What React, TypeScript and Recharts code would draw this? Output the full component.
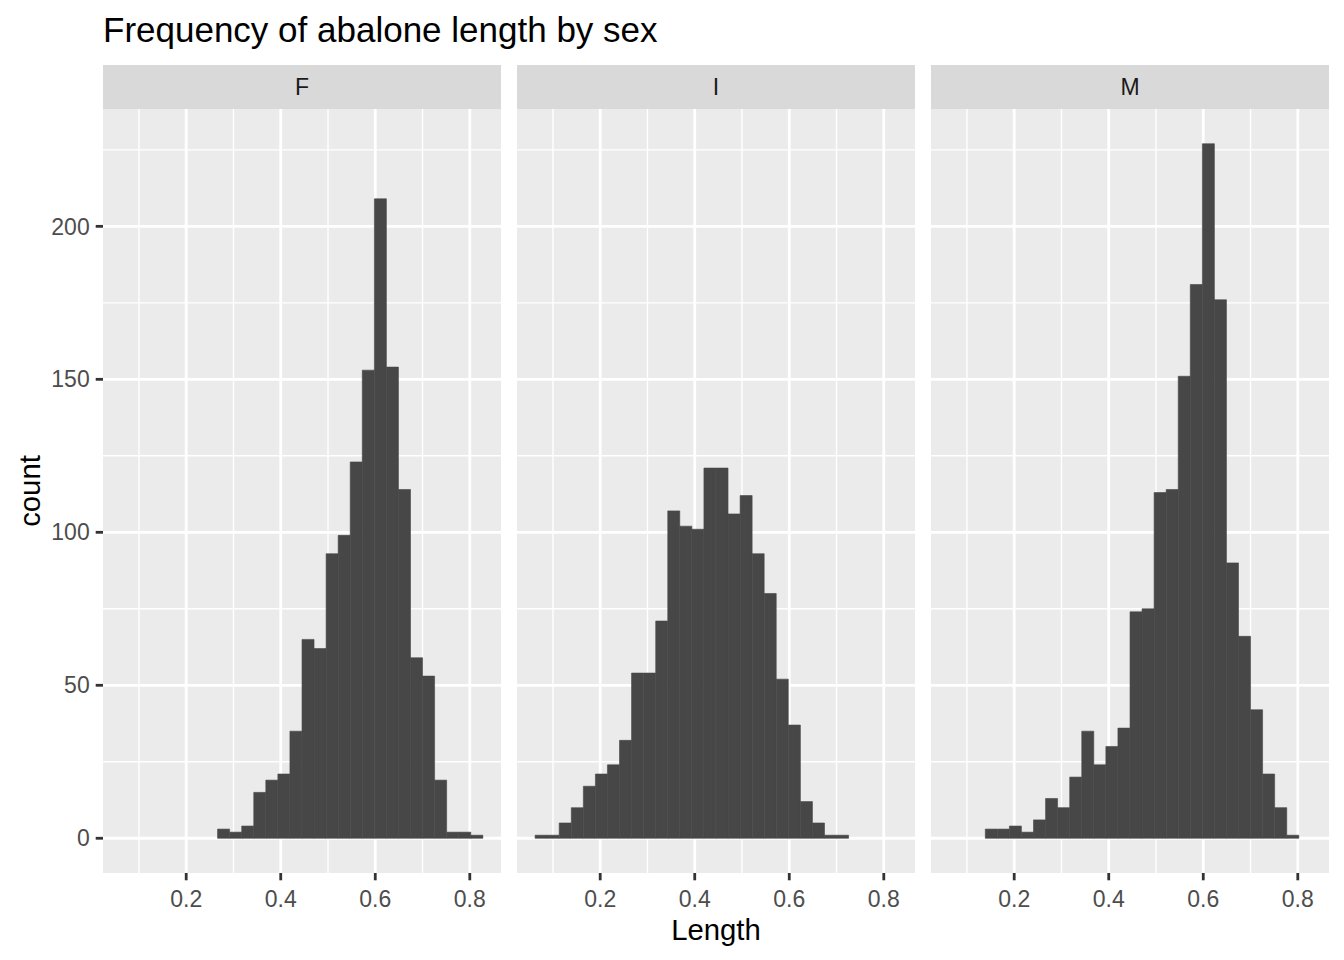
import { BarChart, Bar, XAxis, YAxis, CartesianGrid } from 'recharts';

// histogram bins (30 bins, centres on the Length axis)
const binCenters = [
  0.075, 0.1005, 0.126, 0.1516, 0.1771, 0.2026, 0.2281, 0.2536, 0.2791, 0.3047,
  0.3302, 0.3557, 0.3812, 0.4067, 0.4322, 0.4578, 0.4833, 0.5088, 0.5343, 0.5598,
  0.5853, 0.6109, 0.6364, 0.6619, 0.6874, 0.7129, 0.7384, 0.764, 0.7895, 0.815,
];
const femaleCounts = [
  0, 0, 0, 0, 0, 0, 0, 0, 3, 2, 4, 15, 19, 21, 35, 65, 62, 93, 99, 123,
  153, 209, 154, 114, 59, 53, 19, 2, 2, 1,
];
const infantCounts = [
  1, 1, 5, 10, 17, 21, 24, 32, 54, 54, 71, 107, 102, 101, 121, 121, 106, 112, 93, 80,
  52, 37, 12, 5, 1, 1, 0, 0, 0, 0,
];
const maleCounts = [
  0, 0, 0, 3, 3, 4, 2, 6, 13, 10, 20, 35, 24, 30, 36, 74, 75, 113, 114, 151,
  181, 227, 176, 90, 66, 42, 21, 10, 1, 0,
];
const sexLabels = ['F', 'I', 'M'];
const xMajor = [0.2, 0.4, 0.6, 0.8];
const xMinor = [0.1, 0.3, 0.5, 0.7];
const yMajor = [0, 50, 100, 150, 200];
const yMinor = [25, 75, 125, 175, 225];

const FONT = '"Liberation Sans", Arial, Helvetica, sans-serif';
const X_DOMAIN: [number, number] = [0.023965, 0.866035];
const Y_DOMAIN: [number, number] = [-11.35, 238.35];
const PLOT_TOP = 109;
const PLOT_H = 764;
const PANEL_W = 398;
const X_AXIS_H = 60;
const Y_AXIS_W = 103;
const panelLefts = [103, 517, 931];
const BAR_COLOR = '#474747';

const tickStyle = { fill: '#4D4D4D', fontSize: 23, fontFamily: FONT };
const tickLineStyle = { stroke: '#333333', strokeWidth: 2.8 };

function Panel({ counts, showY }: { counts: number[]; showY: boolean }) {
  const data = binCenters.map((x, i) => ({ x, count: counts[i] }));
  const width = showY ? PANEL_W + Y_AXIS_W : PANEL_W;
  return (
    <BarChart
      width={width}
      height={PLOT_H + X_AXIS_H}
      data={data}
      barCategoryGap={0}
      barGap={0}
      margin={{ top: 0, right: 0, bottom: 0, left: 0 }}
    >
      <CartesianGrid
        fill="#EBEBEB"
        stroke="#FFFFFF"
        strokeWidth={1.4}
        horizontalValues={yMinor}
        verticalValues={xMinor}
      />
      <CartesianGrid
        stroke="#FFFFFF"
        strokeWidth={2.8}
        horizontalValues={yMajor}
        verticalValues={xMajor}
      />
      <XAxis
        dataKey="x"
        type="number"
        domain={X_DOMAIN}
        allowDataOverflow
        ticks={xMajor}
        interval={0}
        height={X_AXIS_H}
        axisLine={false}
        tickLine={tickLineStyle}
        tickSize={7.3}
        tickMargin={10}
        tick={tickStyle}
        tickFormatter={(v: number) => v.toFixed(1)}
      />
      <YAxis
        hide={!showY}
        type="number"
        domain={Y_DOMAIN}
        allowDataOverflow
        ticks={yMajor}
        interval={0}
        width={Y_AXIS_W}
        axisLine={false}
        tickLine={tickLineStyle}
        tickSize={7.3}
        tickMargin={6}
        tick={tickStyle}
      />
      <Bar
        dataKey="count"
        fill={BAR_COLOR}
        stroke={BAR_COLOR}
        strokeWidth={0.6}
        isAnimationActive={false}
      />
    </BarChart>
  );
}

export default function App() {
  const series = [femaleCounts, infantCounts, maleCounts];
  return (
    <div
      style={{
        position: 'absolute',
        left: 0,
        top: 0,
        width: 1344,
        height: 960,
        background: '#FFFFFF',
        fontFamily: FONT,
      }}
    >
      <div
        style={{
          position: 'absolute',
          left: 103,
          top: 12,
          fontSize: 35,
          lineHeight: 1,
          color: '#000000',
          whiteSpace: 'nowrap',
        }}
      >
        Frequency of abalone length by sex
      </div>

      {sexLabels.map((s, i) => (
        <div
          key={s}
          style={{
            position: 'absolute',
            left: panelLefts[i],
            top: 65,
            width: PANEL_W,
            height: 44,
            background: '#D9D9D9',
            color: '#1A1A1A',
            fontSize: 23,
            lineHeight: '44px',
            textAlign: 'center',
          }}
        >
          {s}
        </div>
      ))}

      {series.map((counts, i) => (
        <div
          key={sexLabels[i]}
          style={{
            position: 'absolute',
            left: i === 0 ? 0 : panelLefts[i],
            top: PLOT_TOP,
          }}
        >
          <Panel counts={counts} showY={i === 0} />
        </div>
      ))}

      <div
        style={{
          position: 'absolute',
          left: 30 - 100,
          top: (PLOT_TOP + PLOT_TOP + PLOT_H) / 2 - 15,
          width: 200,
          height: 30,
          lineHeight: '30px',
          textAlign: 'center',
          fontSize: 29.3,
          color: '#000000',
          transform: 'rotate(-90deg)',
        }}
      >
        count
      </div>

      <div
        style={{
          position: 'absolute',
          left: 716 - 150,
          top: 915,
          width: 300,
          textAlign: 'center',
          fontSize: 29.3,
          lineHeight: 1,
          color: '#000000',
        }}
      >
        Length
      </div>
    </div>
  );
}
